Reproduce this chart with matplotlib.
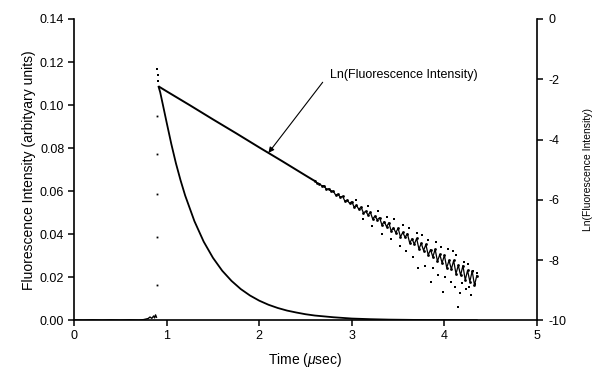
import matplotlib
matplotlib.use("Agg")
import matplotlib.pyplot as plt

plt.rcParams['font.family'] = ['Liberation Sans', 'DejaVu Sans']
plt.rcParams['mathtext.fontset'] = 'custom'
plt.rcParams['mathtext.it'] = 'Liberation Sans:italic'
plt.rcParams['mathtext.rm'] = 'Liberation Sans'
plt.rcParams['axes.unicode_minus'] = False

# baseline before the laser pulse
pre_t = [0.00, 0.10, 0.20, 0.30, 0.40, 0.50, 0.60, 0.70, 0.75, 0.80, 0.82, 0.84, 0.86, 0.87, 0.88, 0.89]
pre_I = [0.0003, 0.0002, 0.0003, 0.0002, 0.0003, 0.0002, 0.0003, 0.0002, 0.0004, 0.0009, 0.0016,
         0.0010, 0.0021, 0.0012, 0.0026, 0.0015]

# points on the rising edge
rise_t = [0.893, 0.893, 0.893, 0.893, 0.893]
rise_I = [0.0167, 0.0387, 0.0586, 0.0772, 0.0950]

# fluorescence decay
decay_t = [0.900, 0.904, 0.908, 0.913, 0.930, 0.960, 1.00, 1.05, 1.10, 1.15, 1.20, 1.30, 1.40,
           1.50, 1.60, 1.70, 1.80, 1.90, 2.00, 2.10, 2.20, 2.30, 2.40, 2.50, 2.60, 2.80,
           3.00, 3.20, 3.40, 3.60, 3.80, 4.00, 4.20, 4.35]
decay_I = [0.1170, 0.1140, 0.1110, 0.1085, 0.1060, 0.1000, 0.0919, 0.0820, 0.0730, 0.0651, 0.0580,
           0.0461, 0.0366, 0.0291, 0.0231, 0.0184, 0.0146, 0.0116, 0.0092, 0.0073, 0.0058,
           0.0046, 0.0037, 0.0029, 0.0023, 0.0015, 0.0009, 0.0006, 0.0004, 0.0003, 0.0002,
           0.0002, 0.0001, 0.0001]

# ln of the decay, clean part
ln_t = [0.92, 1.00, 1.25, 1.50, 1.75, 2.00, 2.25, 2.50, 2.60]
ln_I = [-2.25, -2.40, -2.86, -3.33, -3.79, -4.26, -4.72, -5.19, -5.375]

# ln of the decay, noisy tail
tail_t = [2.600, 2.625, 2.650, 2.675, 2.700, 2.725, 2.750, 2.775, 2.800, 2.825, 2.850, 2.875,
          2.900, 2.925, 2.950, 2.975, 3.000, 3.025, 3.050, 3.075, 3.100, 3.125, 3.150, 3.175,
          3.200, 3.225, 3.250, 3.275, 3.300, 3.325, 3.350, 3.375, 3.400, 3.425, 3.450, 3.475,
          3.500, 3.525, 3.550, 3.575, 3.600, 3.625, 3.650, 3.675, 3.700, 3.725, 3.750, 3.775,
          3.800, 3.825, 3.850, 3.875, 3.900, 3.925, 3.950, 3.975, 4.000, 4.025, 4.050, 4.075,
          4.100, 4.125, 4.150, 4.175, 4.200, 4.225, 4.250, 4.275, 4.300, 4.325, 4.350]
tail_ln = [-5.36, -5.45, -5.46, -5.53, -5.53, -5.65, -5.63, -5.71, -5.71, -5.84, -5.81, -5.91,
           -5.88, -6.04, -6.01, -6.11, -6.06, -6.24, -6.18, -6.31, -6.24, -6.43, -6.38, -6.50,
           -6.41, -6.63, -6.54, -6.66, -6.59, -6.83, -6.72, -6.89, -6.76, -7.03, -6.93, -7.09,
           -6.94, -7.23, -7.08, -7.24, -7.12, -7.43, -7.29, -7.47, -7.28, -7.63, -7.44, -7.68,
           -7.48, -7.83, -7.65, -7.89, -7.64, -8.04, -7.81, -8.09, -7.84, -8.25, -8.01, -8.30,
           -8.01, -8.45, -8.17, -8.50, -8.18, -8.66, -8.34, -8.71, -8.36, -8.83, -8.51]

# stray points around the tail
stray_t = [3.05, 3.12, 3.18, 3.22, 3.28, 3.33, 3.38, 3.42, 3.46, 3.52, 3.55, 3.58, 3.62, 3.66,
           3.70, 3.72, 3.76, 3.79, 3.82, 3.86, 3.88, 3.91, 3.93, 3.96, 3.99, 4.01, 4.04, 4.07,
           4.09, 4.11, 4.13, 4.15, 4.17, 4.19, 4.21, 4.23, 4.25, 4.27, 4.29, 4.31, 4.33, 4.35]
stray_ln = [-5.99, -6.63, -6.20, -6.88, -6.36, -7.13, -6.56, -7.29, -6.65, -7.54, -6.84, -7.70,
            -6.92, -7.88, -7.10, -8.26, -7.17, -8.18, -7.34, -8.72, -8.26, -7.41, -8.50, -7.55,
            -9.06, -8.55, -7.63, -8.71, -7.71, -8.88, -7.83, -9.54, -9.10, -8.76, -8.07, -8.95,
            -8.14, -8.88, -9.14, -8.36, -8.80, -8.43]

fig = plt.figure(figsize=(5.95, 3.72), dpi=100)
ax = fig.add_axes([0.1245, 0.1385, 0.778, 0.8105])
ax2 = ax.twinx()

ax.plot(pre_t, pre_I, color='black', lw=1.0)
ax.plot(rise_t, rise_I, 's', color='black', ms=1.3, mew=0)
ax.plot(decay_t[:4], decay_I[:4], 's', color='black', ms=1.6, mew=0)
ax.plot(decay_t[3:], decay_I[3:], color='black', lw=1.3)

ax2.plot(ln_t, ln_I, color='black', lw=1.4)
ax2.plot(tail_t, tail_ln, color='black', lw=0.9, marker='o', ms=2.0, mew=0)
ax2.plot(stray_t, stray_ln, 's', color='black', ms=1.5, mew=0)

ax.set_xlim(0, 5)
ax.set_ylim(0, 0.14)
ax2.set_ylim(-10, 0)
ax.set_xticks([0, 1, 2, 3, 4, 5])
ax.set_yticks([0, 0.02, 0.04, 0.06, 0.08, 0.10, 0.12, 0.14])
ax.set_yticklabels(['0.00', '0.02', '0.04', '0.06', '0.08', '0.10', '0.12', '0.14'])
ax2.set_yticks([0, -2, -4, -6, -8, -10])

for a in (ax, ax2):
    a.spines['top'].set_visible(False)
    for s in a.spines.values():
        s.set_linewidth(1.2)
ax.spines['right'].set_visible(False)
ax2.spines['left'].set_visible(False)
ax2.spines['bottom'].set_visible(False)

ax.tick_params(direction='out', length=4, width=1.1, labelsize=9, pad=3)
ax2.tick_params(direction='out', length=4, width=1.1, labelsize=9, pad=4)

ax.set_xlabel(r'Time ($\mu$sec)', fontsize=10, labelpad=6)
ax.set_ylabel('Fluorescence Intensity (arbityary units)', fontsize=10, labelpad=3)
ax2.set_ylabel('Ln(Fluorescence Intensity)', fontsize=7.5, labelpad=12)

ax2.annotate('Ln(Fluorescence Intensity)', xy=(2.10, -4.44), xytext=(2.765, -1.86),
             fontsize=9, va='center', ha='left',
             arrowprops=dict(arrowstyle='-|>', color='black', lw=0.8,
                             mutation_scale=8, shrinkA=0, shrinkB=0,
                             relpos=(-0.05, -0.1)))

fig.savefig('out.png', dpi=100)
